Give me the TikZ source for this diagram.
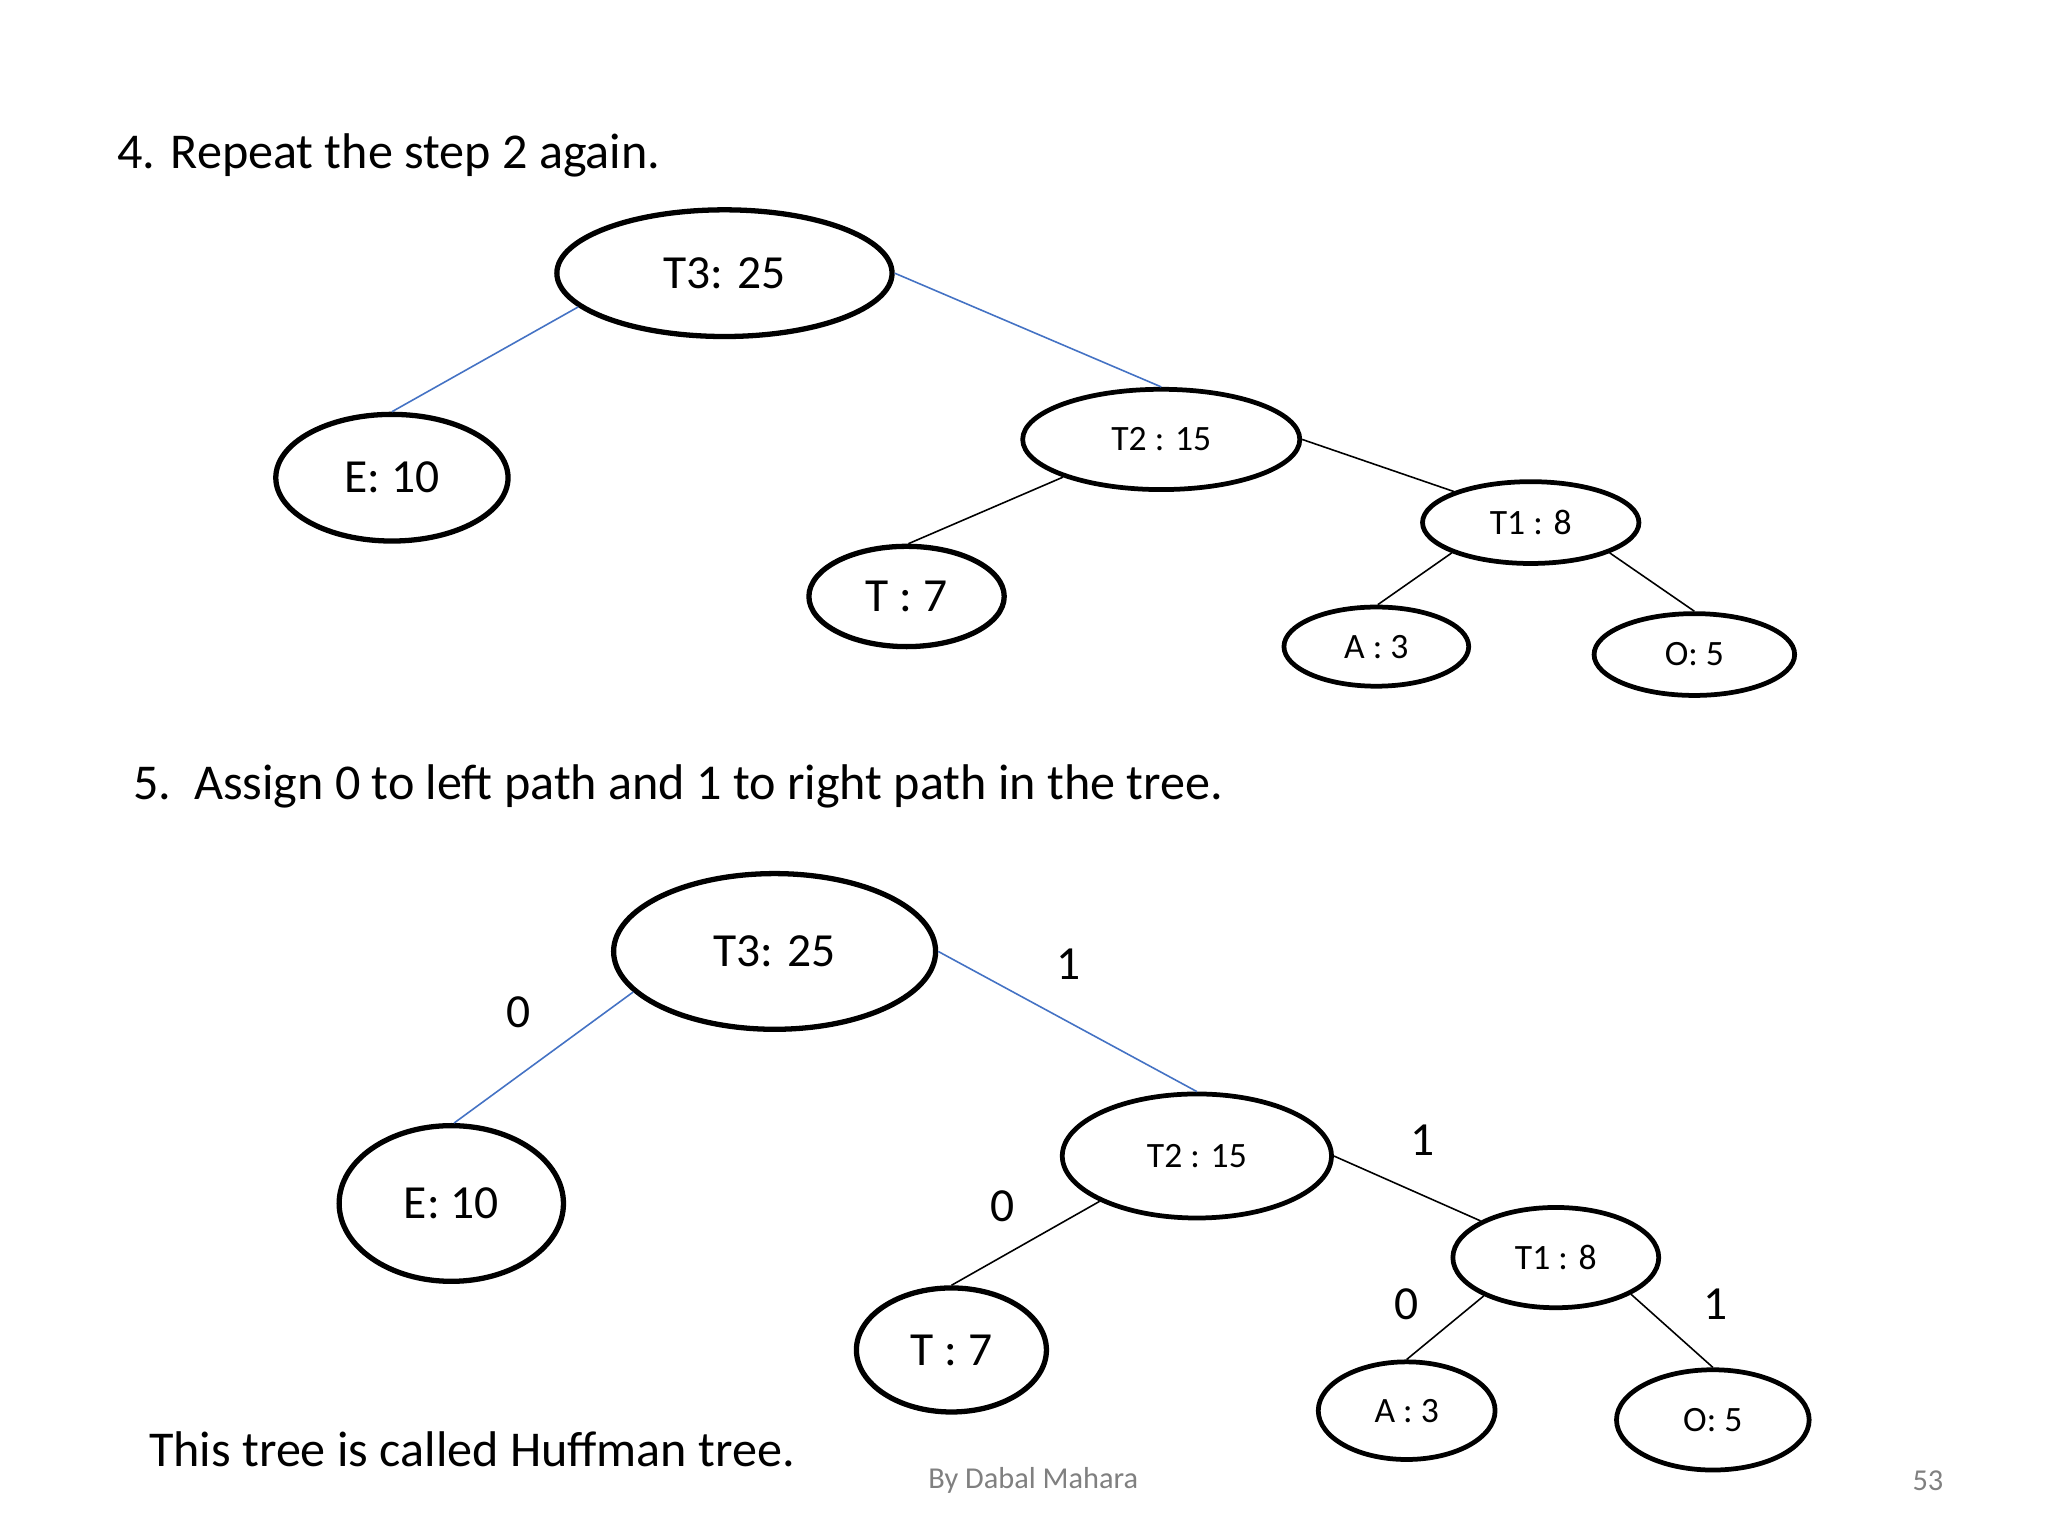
\documentclass[tikz,border=0pt]{standalone}
\usepackage{fontspec}
\setmainfont{Carlito}
\usetikzlibrary{shapes.geometric}
\definecolor{edgeblue}{RGB}{68,114,196}
\begin{document}
\begin{tikzpicture}[x=0.5pt,y=-0.5pt,
  nd/.style={ellipse,draw,line width=2pt,inner sep=0pt,font=\fontsize{18}{21}\selectfont},
  sm/.style={ellipse,draw,line width=1.8pt,inner sep=0pt,font=\fontsize{13.5}{16}\selectfont},
  be/.style={draw=edgeblue,line width=0.6pt},
  ke/.style={draw=black,line width=0.6pt},
  lb/.style={font=\fontsize{18}{21}\selectfont},
  tx/.style={anchor=west,font=\fontsize{19}{23}\selectfont}]
\useasboundingbox[fill=white] (0,0) rectangle (1552,1164);
\node[tx] (h1) at (82,118) {4. Repeat the step 2 again.};
\node[tx] (h2) at (94,596) {5.\ \ Assign 0 to left path and 1 to right path in the tree.};
\node[tx] (h3) at (106,1098) {This tree is called Huffman tree.};
\node[font=\fontsize{11.5}{13}\selectfont,text=gray] (f1) at (783,1122) {By Dabal Mahara};
\node[font=\fontsize{11.5}{13}\selectfont,text=gray] (f2) at (1461,1122) {53};
% top tree
\node[nd,minimum width=127pt,minimum height=48pt] (a3) at (549,207) {T3: 25};
\node[nd,minimum width=88pt,minimum height=48pt] (ae) at (297,362) {E: 10};
\node[sm,minimum width=105pt,minimum height=38pt] (a2) at (880,333) {T2 : 15};
\node[nd,minimum width=74pt,minimum height=38pt] (at) at (687,452) {T : 7};
\node[sm,minimum width=82pt,minimum height=31pt] (a1) at (1160,396) {T1 : 8};
\node[sm,minimum width=70pt,minimum height=30pt] (aa) at (1043,490) {A : 3};
\node[sm,minimum width=76pt,minimum height=31pt] (ao) at (1284,496) {O: 5};
\draw[be] (a3.193) -- (ae.90);
\draw[be] (a3.0) -- (a2.90);
\draw[ke] (a2.0) -- (a1.158);
\draw[ke] (a2.201) -- (at.88);
\draw[ke] (a1.201) -- (aa.88);
\draw[ke] (a1.339) -- (ao.90);
% bottom tree
\node[nd,minimum width=122pt,minimum height=59pt] (b3) at (587,721) {T3: 25};
\node[nd,minimum width=85pt,minimum height=59pt] (be) at (342,912) {E: 10};
\node[sm,minimum width=102pt,minimum height=47pt] (b2) at (907,876) {T2 : 15};
\node[nd,minimum width=72pt,minimum height=47pt] (bt) at (721,1023) {T : 7};
\node[sm,minimum width=78pt,minimum height=38pt] (b1) at (1179,953) {T1 : 8};
\node[sm,minimum width=67pt,minimum height=37pt] (ba) at (1066,1069) {A : 3};
\node[sm,minimum width=73pt,minimum height=38pt] (bo) at (1298,1076) {O: 5};
\draw[be] (b3.196) -- (be.88);
\draw[be] (b3.0) -- (b2.90);
\draw[ke] (b2.0) -- (b1.154);
\draw[ke] (b2.205) -- (bt.90);
\draw[ke] (b1.208) -- (ba.90);
\draw[ke] (b1.334) -- (bo.90);
\node[lb] (l1) at (393,767) {0};
\node[lb] (l2) at (810,731) {1};
\node[lb] (l3) at (1078,864) {1};
\node[lb] (l4) at (760,914) {0};
\node[lb] (l5) at (1066,988) {0};
\node[lb] (l6) at (1300,988) {1};
\end{tikzpicture}
\end{document}
